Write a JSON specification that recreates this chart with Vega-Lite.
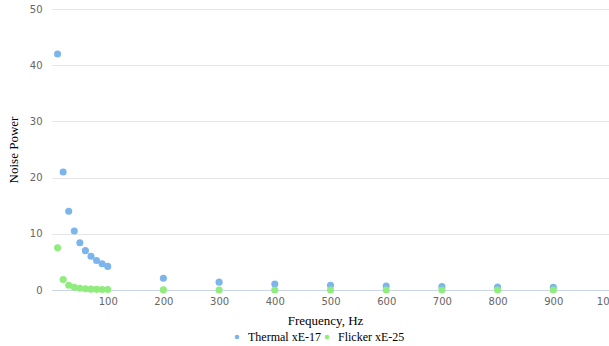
{
  "$schema": "https://vega.github.io/schema/vega-lite/v6.json",
  "width": 557,
  "height": 281,
  "autosize": {"type": "none"},
  "padding": {"left": 52, "top": 9, "right": 0, "bottom": 56},
  "background": "white",
  "config": {"view": {"stroke": null}},
  "data": {
    "values": [
      {"freq": 10, "power": 42, "series": "Thermal xE-17"},
      {"freq": 20, "power": 21, "series": "Thermal xE-17"},
      {"freq": 30, "power": 14, "series": "Thermal xE-17"},
      {"freq": 40, "power": 10.5, "series": "Thermal xE-17"},
      {"freq": 50, "power": 8.4, "series": "Thermal xE-17"},
      {"freq": 60, "power": 7, "series": "Thermal xE-17"},
      {"freq": 70, "power": 6, "series": "Thermal xE-17"},
      {"freq": 80, "power": 5.25, "series": "Thermal xE-17"},
      {"freq": 90, "power": 4.67, "series": "Thermal xE-17"},
      {"freq": 100, "power": 4.2, "series": "Thermal xE-17"},
      {"freq": 200, "power": 2.1, "series": "Thermal xE-17"},
      {"freq": 300, "power": 1.4, "series": "Thermal xE-17"},
      {"freq": 400, "power": 1.05, "series": "Thermal xE-17"},
      {"freq": 500, "power": 0.84, "series": "Thermal xE-17"},
      {"freq": 600, "power": 0.7, "series": "Thermal xE-17"},
      {"freq": 700, "power": 0.6, "series": "Thermal xE-17"},
      {"freq": 800, "power": 0.525, "series": "Thermal xE-17"},
      {"freq": 900, "power": 0.467, "series": "Thermal xE-17"},
      {"freq": 10, "power": 7.5, "series": "Flicker xE-25"},
      {"freq": 20, "power": 1.875, "series": "Flicker xE-25"},
      {"freq": 30, "power": 0.833, "series": "Flicker xE-25"},
      {"freq": 40, "power": 0.469, "series": "Flicker xE-25"},
      {"freq": 50, "power": 0.3, "series": "Flicker xE-25"},
      {"freq": 60, "power": 0.208, "series": "Flicker xE-25"},
      {"freq": 70, "power": 0.153, "series": "Flicker xE-25"},
      {"freq": 80, "power": 0.117, "series": "Flicker xE-25"},
      {"freq": 90, "power": 0.093, "series": "Flicker xE-25"},
      {"freq": 100, "power": 0.075, "series": "Flicker xE-25"},
      {"freq": 200, "power": 0.019, "series": "Flicker xE-25"},
      {"freq": 300, "power": 0.008, "series": "Flicker xE-25"},
      {"freq": 400, "power": 0.005, "series": "Flicker xE-25"},
      {"freq": 500, "power": 0.003, "series": "Flicker xE-25"},
      {"freq": 600, "power": 0.002, "series": "Flicker xE-25"},
      {"freq": 700, "power": 0.0015, "series": "Flicker xE-25"},
      {"freq": 800, "power": 0.0012, "series": "Flicker xE-25"},
      {"freq": 900, "power": 0.0009, "series": "Flicker xE-25"}
    ]
  },
  "mark": {"type": "point", "filled": true, "shape": "circle", "size": 50, "opacity": 1},
  "encoding": {
    "x": {
      "field": "freq",
      "type": "quantitative",
      "scale": {"domain": [0, 1000], "nice": false, "zero": true},
      "axis": {
        "values": [100, 200, 300, 400, 500, 600, 700, 800, 900, 1000],
        "format": "d",
        "labelBound": false,
        "labelFlush": false,
        "labelOverlap": false,
        "grid": false,
        "ticks": false,
        "domainColor": "#ccd6eb",
        "domainWidth": 1,
        "labelColor": "#666666",
        "labelFont": "DejaVu Sans",
        "labelFontSize": 10,
        "labelPadding": 6,
        "title": "Frequency, Hz",
        "titleFont": "Liberation Serif",
        "titleFontSize": 13,
        "titleFontWeight": "normal",
        "titleColor": "#000000",
        "titlePadding": 8,
        "titleX": 273
      }
    },
    "y": {
      "field": "power",
      "type": "quantitative",
      "scale": {"domain": [0, 50], "nice": false},
      "axis": {
        "values": [0, 10, 20, 30, 40, 50],
        "grid": true,
        "gridColor": "#e6e6e6",
        "domain": false,
        "ticks": false,
        "labelColor": "#666666",
        "labelFont": "DejaVu Sans",
        "labelFontSize": 10,
        "labelPadding": 10,
        "title": "Noise Power",
        "titleFont": "Liberation Serif",
        "titleFontSize": 13,
        "titleFontWeight": "normal",
        "titleColor": "#000000",
        "titlePadding": 9
      }
    },
    "color": {
      "field": "series",
      "type": "nominal",
      "sort": ["Thermal xE-17", "Flicker xE-25"],
      "scale": {"domain": ["Thermal xE-17", "Flicker xE-25"], "range": ["#7cb5ec", "#90ed7d"]},
      "legend": {
        "title": null,
        "orient": "none",
        "direction": "horizontal",
        "legendX": 179,
        "legendY": 322,
        "symbolType": "circle",
        "symbolSize": 22,
        "labelFont": "Liberation Serif",
        "labelFontSize": 12,
        "labelColor": "#000000",
        "columnPadding": 0,
        "labelOffset": 5
      }
    }
  }
}
